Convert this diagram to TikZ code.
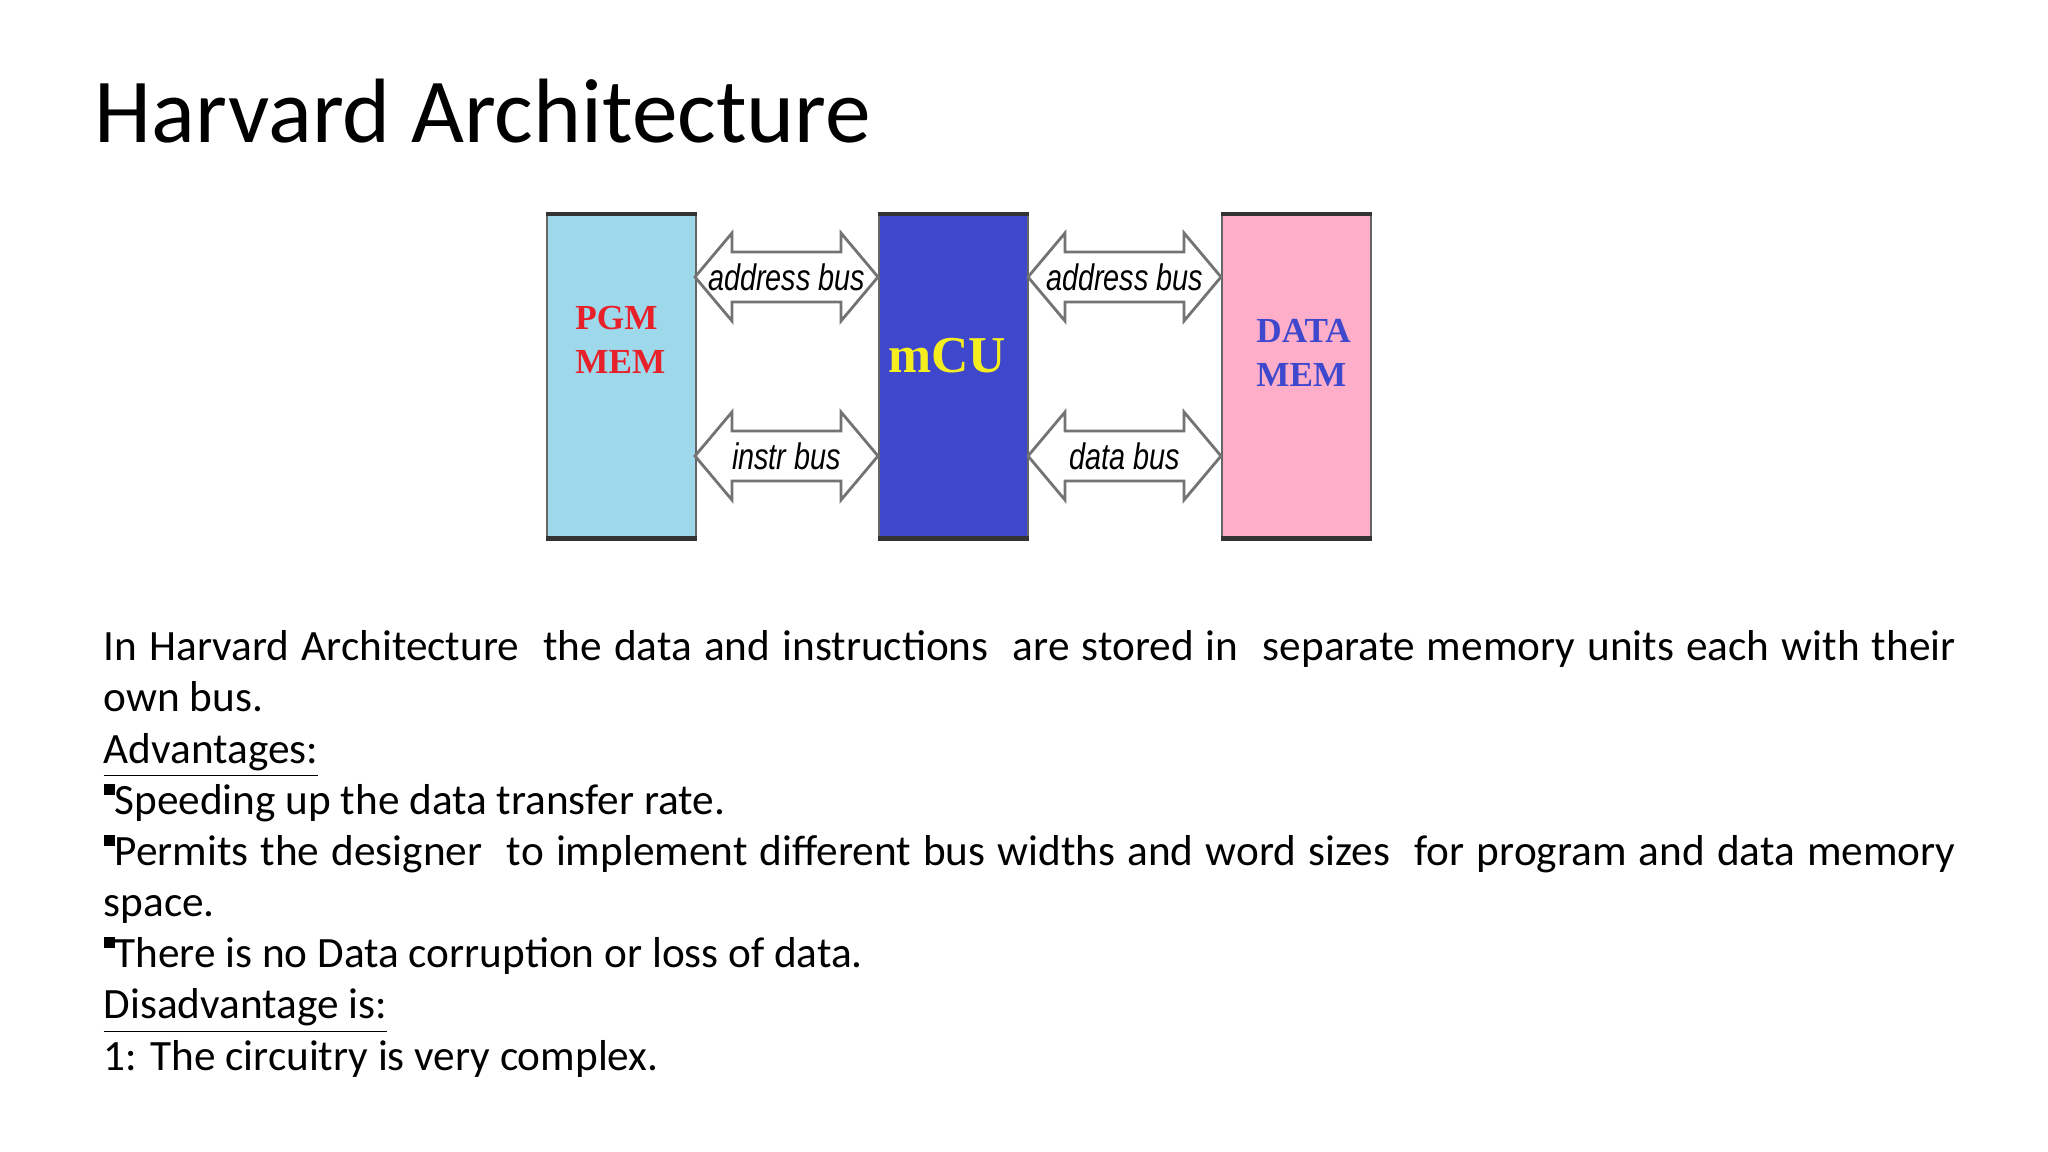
\documentclass[tikz,border=0pt]{standalone}
\usepackage{fontspec}
\setmainfont{Carlito}
\newfontfamily\serifbold{Liberation Serif}
\newfontfamily\busfont{Liberation Sans}
\definecolor{pgmcol}{HTML}{9DD9EA}
\definecolor{mcucol}{HTML}{3F48CC}
\definecolor{datacol}{HTML}{FEAEC9}
\definecolor{redtxt}{HTML}{E8202A}
\definecolor{yelltxt}{HTML}{F5EE1E}
\tikzset{
  unit/.style={draw=black!60, line width=0.5pt, minimum width=149\pxu, minimum height=323\pxu, anchor=north west, inner sep=0pt},
  memlabel/.style={font=\serifbold\bfseries\fontsize{10pt}{12.5pt}\selectfont, align=left},
  buslabel/.style={font=\busfont\itshape\fontsize{10.5pt}{11pt}\selectfont, xscale=0.78},
  bus/.style={draw=black!55, line width=0.8pt, fill=white},
  edge/.style={draw=black!80, line width=1.3pt},
}
\newlength\pxu \setlength\pxu{0.01cm}
% double arrow between two x positions at height y
\newcommand\busarrow[5]{%
  \draw[bus] (#1,#3) -- (#1+37,#3-44) -- (#1+37,#3-25) -- (#2-37,#3-25) -- (#2-37,#3-44)
    -- (#2,#3) -- (#2-37,#3+44) -- (#2-37,#3+25) -- (#1+37,#3+25) -- (#1+37,#3+44) -- cycle;
  \node[buslabel] (#5) at ({(#1+#2)/2},#3) {#4};
}
\begin{document}
\begin{tikzpicture}[x=0.01cm, y=-0.01cm]
\useasboundingbox (0,0) rectangle (2048,1152);
%title:
\node[anchor=base west, inner sep=0pt, font=\fontsize{26pt}{30pt}\selectfont] (title) at (94,143) {Harvard Architecture};
%units:
\node[unit, fill=pgmcol] (pgm) at (546,214) {};
\node[unit, fill=mcucol] (mcu) at (878,214) {};
\node[unit, fill=datacol] (data) at (1221,214) {};
\foreach \u in {pgm,mcu,data}{
  \draw[edge] (\u.north west) -- (\u.north east);
  \draw[edge] (\u.south west) -- (\u.south east);
}
\node[memlabel, text=redtxt, anchor=west] (pgmtxt) at (563,340) {PGM\\MEM};
\node[memlabel, text=mcucol, anchor=west] (datatxt) at (1244,353) {DATA\\MEM};
\node[font=\serifbold\bfseries\fontsize{14.7pt}{18pt}\selectfont, text=yelltxt] (mcutxt) at (947,356) {mCU};
%buses:
\busarrow{695}{878}{277}{address bus}{abusl}
\busarrow{695}{878}{456}{instr bus}{ibus}
\busarrow{1028}{1221}{277}{address bus}{abusr}
\busarrow{1028}{1221}{456}{data bus}{dbus}
%text:
\node[anchor=north west, inner sep=0pt, text width=1852\pxu, align=justify,
  font=\fontsize{12.3pt}{14.55pt}\selectfont] (body) at (103,630) {%
\def\sq{\raisebox{0.45em}{\rule{0.25em}{0.25em}}}%
In Harvard Architecture\ \ the data and instructions\ \ are stored in\ \ separate memory units each with their own bus.\\
\underline{Advantages:}\\
\sq Speeding up the data transfer rate.\\
\sq Permits the designer\ \ to implement different bus widths and word sizes\ \ for program and data memory space.\\
\sq There is no Data corruption or loss of data.\\
\underline{Disadvantage is:}\\
1: The circuitry is very complex.};
\end{tikzpicture}
\end{document}
